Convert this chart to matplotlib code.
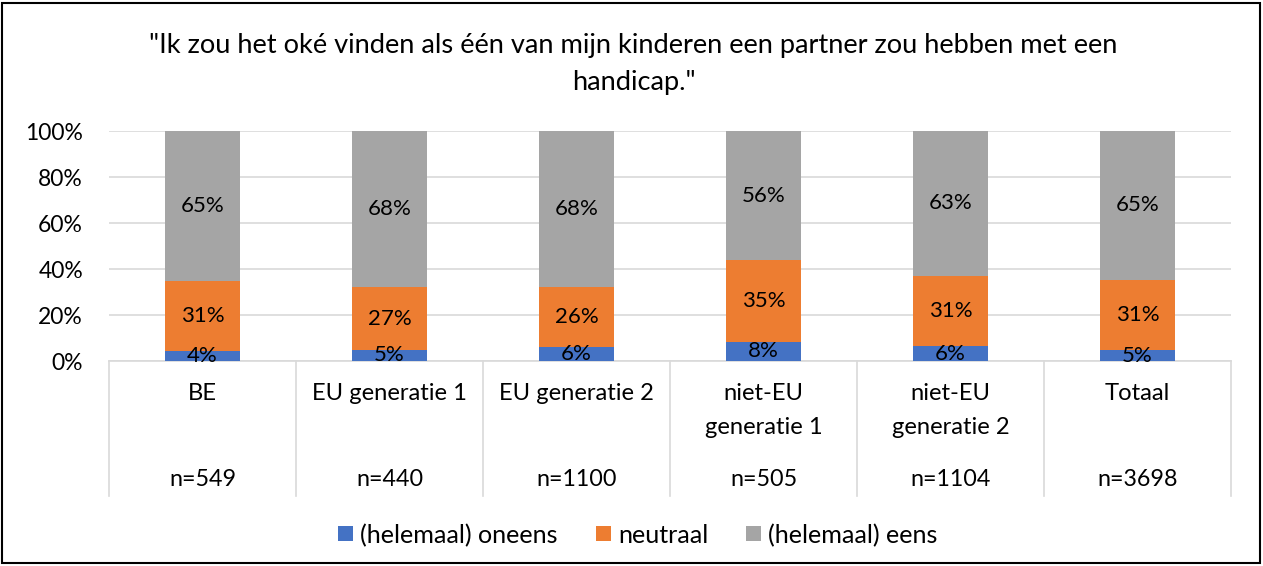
import matplotlib.pyplot as plt
import numpy as np
from matplotlib.patches import Rectangle

plt.rcParams['font.family'] = ['Lato', 'DejaVu Sans']

TITLE = '"Ik zou het oké vinden als één van mijn kinderen een partner zou hebben met een\nhandicap."'
groups = ["BE", "EU generatie 1", "EU generatie 2", "niet-EU\ngeneratie 1",
          "niet-EU\ngeneratie 2", "Totaal"]
n_labels = ["n=549", "n=440", "n=1100", "n=505", "n=1104", "n=3698"]
series_names = ["(helemaal) oneens", "neutraal", "(helemaal) eens"]

# percentages
oneens = [4.3, 4.8, 6.1, 8.4, 6.4, 4.6]
neutraal = [30.6, 27.2, 26.1, 35.4, 30.6, 30.7]
eens = [65.1, 68.0, 67.8, 56.2, 63.0, 64.7]

colors = ["#4472C4", "#ED7D31", "#A5A5A5"]
GRID = "#D9D9D9"

W, H = 1263, 566
fig = plt.figure(figsize=(W / 100, H / 100), dpi=100)
renderer = fig.canvas.get_renderer()


def text_width(text, size):
    t = fig.text(0, 0, text, fontsize=size)
    w = t.get_window_extent(renderer).width
    t.remove()
    return w


def fit_size(text, width_px):
    """font size (pt) at which `text` is about width_px wide"""
    return 10 * width_px / text_width(text, 10)


fs_title = fit_size(TITLE.split("\n")[0], 975)
fs_tick = fit_size("100%", 58)
fs_cat = fit_size("EU generatie 1", 155)
fs_n = fit_size("n=549", 67)
fs_data = fit_size("65%", 44)
fs_leg = fit_size("(helemaal) oneens", 198)

# outer chart frame
fig.patches.append(Rectangle((2 / W, 3 / H), (W - 5) / W, (H - 6) / H,
                             transform=fig.transFigure, fill=False,
                             edgecolor="black", linewidth=1.5))

x0, x1, ytop, ybot = 109, 1231, 131, 361
ax = fig.add_axes([x0 / W, 1 - ybot / H, (x1 - x0) / W, (ybot - ytop) / H])

x = np.arange(len(groups))
bottom = np.zeros(len(groups))
for vals, name, col in zip([oneens, neutraal, eens], series_names, colors):
    vals = np.array(vals)
    ax.bar(x, vals, 0.4, bottom=bottom, color=col, label=name, zorder=3)
    for xi, b, v in zip(x, bottom, vals):
        ax.text(xi, b + v / 2, f"{v:.0f}%", ha="center", va="center",
                fontsize=fs_data, color="black", zorder=4)
    bottom += vals

ax.set_xlim(-0.5, len(groups) - 0.5)
ax.set_ylim(0, 100)
ax.set_yticks(np.arange(0, 101, 20))
ax.set_yticklabels([f"{t}%" for t in range(0, 101, 20)])
ax.tick_params(axis="y", length=0, pad=26 * 0.72, labelsize=fs_tick)
ax.set_xticks([])
ax.grid(axis="y", color=GRID, linewidth=1.2, zorder=0)
for s in ["top", "right", "left"]:
    ax.spines[s].set_visible(False)
ax.spines["bottom"].set_color(GRID)
ax.spines["bottom"].set_linewidth(1.2)

# multi-level category axis (pixel rows -> data units below 0)
px = 100 / (ybot - ytop)
for b in np.arange(len(groups) + 1) - 0.5:
    ax.plot([b, b], [0, -(496 - ybot) * px], color=GRID, lw=1.2,
            clip_on=False, zorder=1)
for xi, g, n in zip(x, groups, n_labels):
    for i, line in enumerate(g.split("\n")):
        ax.text(xi, -(394 + 34 * i - ybot) * px, line, ha="center",
                va="center", fontsize=fs_cat)
    ax.text(xi, -(479 - ybot) * px, n, ha="center", va="center", fontsize=fs_n)

for i, line in enumerate(TITLE.split("\n")):
    fig.text(0.5 + 2 / W, 1 - (45 + 38 * i) / H, line, ha="center",
             va="center", fontsize=fs_title)

# legend drawn by hand so all labels share one baseline
sq, gap, colgap, leg_y = 15, 7, 38, 533.5
widths = [text_width(s, fs_leg) for s in series_names]
total = sum(sq + gap + w for w in widths) + colgap * (len(widths) - 1)
lx = 638 - total / 2
for name, col, w in zip(series_names, colors, widths):
    fig.patches.append(Rectangle((lx / W, 1 - (leg_y + sq / 2) / H),
                                 sq / W, sq / H, transform=fig.transFigure,
                                 facecolor=col, edgecolor="none"))
    fig.text((lx + sq + gap) / W, 1 - leg_y / H, name, ha="left",
             va="center_baseline", fontsize=fs_leg)
    lx += sq + gap + w + colgap

fig.savefig("out.png", dpi=100)
